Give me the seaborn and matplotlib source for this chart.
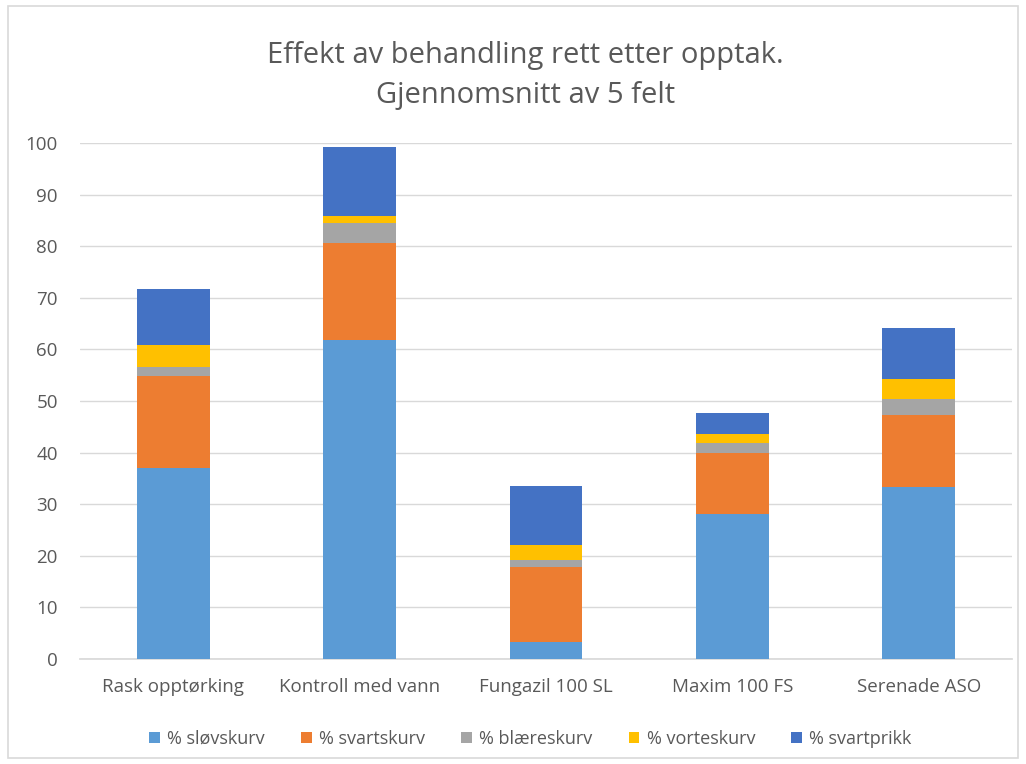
import matplotlib
matplotlib.use("Agg")
import matplotlib.pyplot as plt
import seaborn as sns
import pandas as pd
import numpy as np
from matplotlib.patches import Rectangle, Patch

categories = ["Rask opptørking", "Kontroll med vann", "Fungazil 100 SL", "Maxim 100 FS", "Serenade ASO"]
slovskurv = [37.0, 61.8, 3.2, 28.1, 33.4]
svartskurv = [17.8, 18.9, 14.7, 11.8, 13.9]
blaereskurv = [1.8, 3.7, 1.3, 1.9, 3.0]
vorteskurv = [4.2, 1.5, 2.9, 1.9, 4.0]
svartprikk = [11.0, 13.3, 11.4, 4.0, 9.8]
series_names = ["% sløvskurv", "% svartskurv", "% blæreskurv", "% vorteskurv", "% svartprikk"]
colors = ["#5B9BD5", "#ED7D31", "#A5A5A5", "#FFC000", "#4472C4"]

sns.set_theme(style="white")
plt.rcParams['font.family'] = ['Open Sans', 'DejaVu Sans']

series = [slovskurv, svartskurv, blaereskurv, vorteskurv, svartprikk]
cum = np.cumsum(np.array(series), axis=0)

fig = plt.figure(figsize=(10.26, 7.64), dpi=100)
ax = fig.add_axes([80/1026, 1-659/764, 932/1026, (659-143)/764])

for i in reversed(range(len(series))):
    df = pd.DataFrame({"cat": categories, "val": cum[i]})
    sns.barplot(data=df, x="cat", y="val", color=colors[i], width=0.39,
                saturation=1, linewidth=0, edgecolor="none", ax=ax, zorder=3)

ax.set_xlim(-0.5, 4.5)
ax.set_ylim(0, 100)
ax.set_yticks(range(0, 101, 10))
ax.yaxis.grid(True, color="#D9D9D9", linewidth=1, zorder=0)
ax.set_axisbelow(True)
for s in ["top", "right", "left"]:
    ax.spines[s].set_visible(False)
ax.spines["bottom"].set_color("#D9D9D9")
ax.set_xlabel("")
ax.set_ylabel("")
ax.tick_params(axis="both", length=0, labelsize=13.5, labelcolor="#595959")
ax.tick_params(axis="x", pad=14)
ax.tick_params(axis="y", pad=16)

fig.text(0.512, 1-56/764, "Effekt av behandling rett etter opptak.", ha="center", va="center",
         fontsize=21, color="#595959")
fig.text(0.512, 1-96/764, "Gjennomsnitt av 5 felt", ha="center", va="center",
         fontsize=21, color="#595959")

handles = [Patch(facecolor=c, edgecolor="none") for c in colors]
fig.legend(handles, series_names, loc="center", bbox_to_anchor=(0.517, 1-739/764), ncol=5,
           frameon=False, fontsize=13, labelcolor="#595959", handlelength=0.6,
           handleheight=0.6, handletextpad=0.4, columnspacing=2.0)

fig.add_artist(Rectangle((8/1026, 6/764), 1010/1026, 752/764, transform=fig.transFigure,
                         fill=False, edgecolor="#D9D9D9", linewidth=1.2))

fig.savefig("out.png", dpi=100)
